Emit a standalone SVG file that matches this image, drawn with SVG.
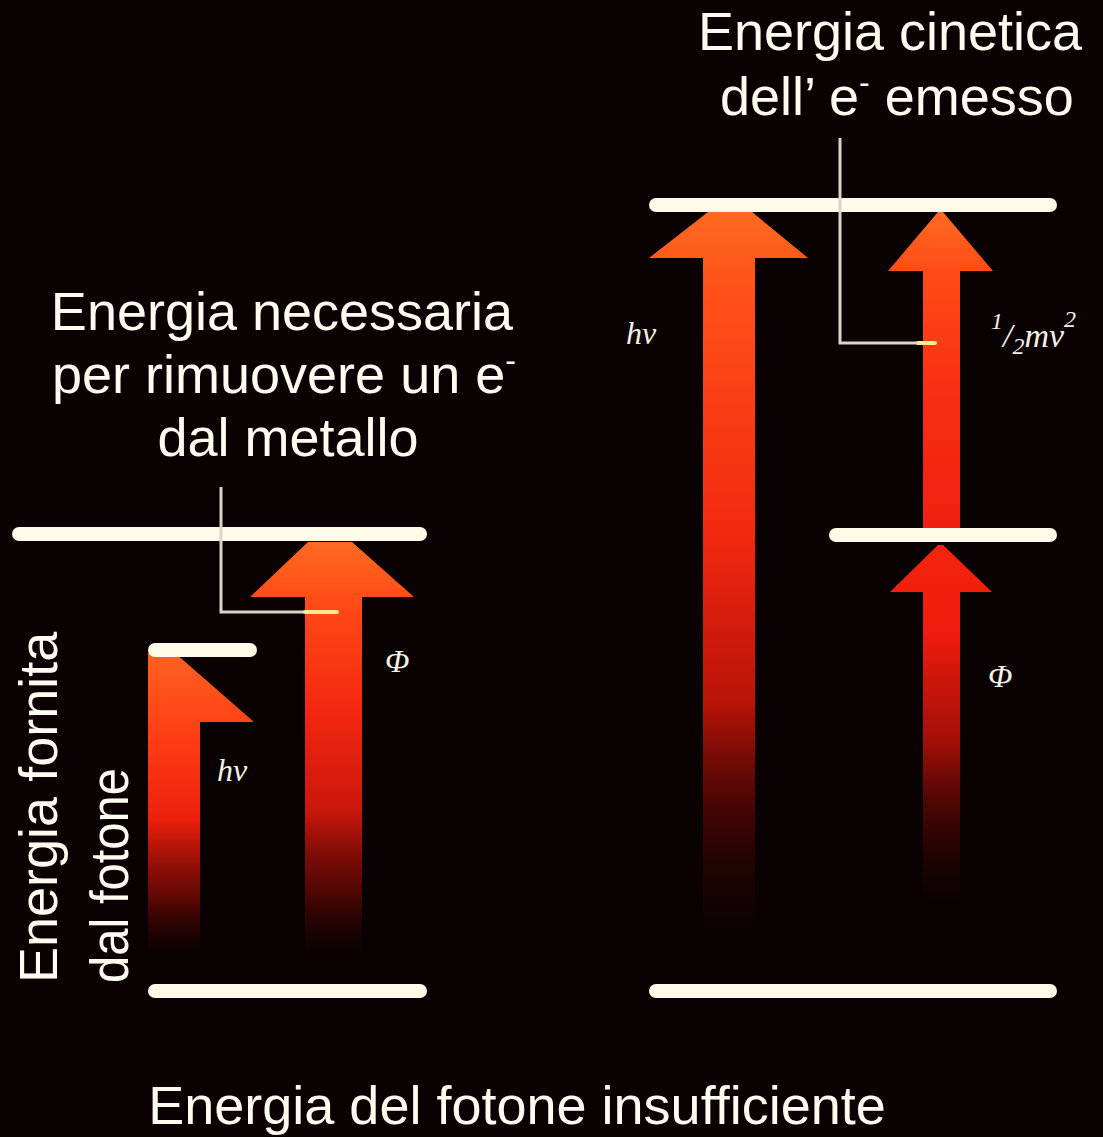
<svg xmlns="http://www.w3.org/2000/svg" width="1103" height="1137" viewBox="0 0 1103 1137">
<defs>
<style>
.t{font-family:"Liberation Sans",Arial,sans-serif;font-size:54px;fill:#fffbf0}
.s{font-family:"Liberation Serif","Times New Roman",serif;font-style:italic;fill:#f4f0e4}
.lv{stroke:#fffbe8;stroke-width:14;stroke-linecap:round;fill:none}
.ln{stroke:#d8d6cc;stroke-width:3;fill:none}
</style>
<linearGradient id="gA" gradientUnits="userSpaceOnUse" x1="0" y1="542" x2="0" y2="955">
<stop offset="0" stop-color="#ff6a22"/><stop offset="0.14" stop-color="#ff4c16"/><stop offset="0.4" stop-color="#f42810"/><stop offset="0.65" stop-color="#e01a0c" stop-opacity="0.9"/><stop offset="0.85" stop-color="#a00c06" stop-opacity="0.45"/><stop offset="1" stop-color="#500404" stop-opacity="0"/>
</linearGradient>
<linearGradient id="gB" gradientUnits="userSpaceOnUse" x1="0" y1="653" x2="0" y2="955">
<stop offset="0" stop-color="#ff6222"/><stop offset="0.25" stop-color="#ff4014"/><stop offset="0.55" stop-color="#ee200c"/><stop offset="0.8" stop-color="#b00e06" stop-opacity="0.55"/><stop offset="1" stop-color="#500404" stop-opacity="0"/>
</linearGradient>
<linearGradient id="gC" gradientUnits="userSpaceOnUse" x1="0" y1="212" x2="0" y2="935">
<stop offset="0" stop-color="#ff6a22"/><stop offset="0.1" stop-color="#ff5218"/><stop offset="0.45" stop-color="#f22810"/><stop offset="0.68" stop-color="#d8160a" stop-opacity="0.85"/><stop offset="0.86" stop-color="#800806" stop-opacity="0.35"/><stop offset="1" stop-color="#400404" stop-opacity="0"/>
</linearGradient>
<linearGradient id="gD" gradientUnits="userSpaceOnUse" x1="0" y1="212" x2="0" y2="528">
<stop offset="0" stop-color="#ff6a22"/><stop offset="0.2" stop-color="#ff4a16"/><stop offset="0.6" stop-color="#f82c12"/><stop offset="1" stop-color="#f02010"/>
</linearGradient>
<linearGradient id="gE" gradientUnits="userSpaceOnUse" x1="0" y1="545" x2="0" y2="905">
<stop offset="0" stop-color="#f4240e"/><stop offset="0.25" stop-color="#ee1c0c"/><stop offset="0.55" stop-color="#c8120a" stop-opacity="0.8"/><stop offset="0.8" stop-color="#780806" stop-opacity="0.35"/><stop offset="1" stop-color="#400404" stop-opacity="0"/>
</linearGradient>
</defs>
<rect width="1103" height="1137" fill="#0a0202"/>

<g id="arrows">
<polygon id="arrow-phi-left" fill="url(#gA)" points="308,542 352,542 414,597 362,597 362,955 305,955 305,597 250,597"/>
<polygon id="arrow-hv-left" fill="url(#gB)" points="148,653 175,653 254,722 200,722 200,955 148,955"/>
<polygon id="arrow-hv-right" fill="url(#gC)" points="708,212 752,212 808,258 755,258 755,935 703,935 703,258 649,258"/>
<polygon id="arrow-kin-right" fill="url(#gD)" points="938,212 943,212 993,271 960,271 960,528 923,528 923,271 888,271"/>
<polygon id="arrow-phi-right" fill="url(#gE)" points="938,545 943,545 992,592 960,592 960,905 923,905 923,592 890,592"/>
</g>

<g id="levels">
<line class="lv" x1="19" y1="534" x2="420" y2="534"/>
<line class="lv" x1="155" y1="650" x2="250" y2="650"/>
<line class="lv" x1="155" y1="991" x2="420" y2="991"/>
<line class="lv" x1="656" y1="205" x2="1050" y2="205"/>
<line class="lv" x1="836" y1="535" x2="1050" y2="535"/>
<line class="lv" x1="656" y1="991" x2="1050" y2="991"/>
</g>

<g id="connectors">
<polyline class="ln" points="221,487 221,612 312,612"/>
<line x1="305" y1="612" x2="337" y2="612" stroke="#ffe890" stroke-width="4" stroke-linecap="round"/>
<polyline class="ln" points="840,138 840,343 922,343"/>
<line x1="918" y1="343" x2="935" y2="343" stroke="#ffe890" stroke-width="4" stroke-linecap="round"/>
</g>

<g id="labels">
<text class="t" x="282" y="330" text-anchor="middle">Energia necessaria</text>
<text class="t" x="52" y="393">per rimuovere un e<tspan font-size="32" dy="-22">-</tspan></text>
<text class="t" x="288" y="456" text-anchor="middle">dal metallo</text>
<text class="t" x="890" y="50" text-anchor="middle">Energia cinetica</text>
<text class="t" x="720" y="115">dell’ e<tspan font-size="32" dy="-22">-</tspan><tspan dy="22"> emesso</tspan></text>
<text class="t" x="517" y="1124" text-anchor="middle">Energia del fotone insufficiente</text>
<text class="t" transform="translate(57,983) rotate(-90)">Energia fornita</text>
<text class="t" transform="translate(128,983) rotate(-90)" textLength="215" lengthAdjust="spacingAndGlyphs">dal fotone</text>
<text class="s" x="626" y="344" font-size="32">hν</text>
<text class="s" x="217" y="781" font-size="32">hν</text>
<text class="s" x="385" y="672" font-size="32" font-style="normal">Φ</text>
<text class="s" x="988" y="687" font-size="32" font-style="normal">Φ</text>
<text class="s" x="991" y="347" font-size="34"><tspan font-size="24" dy="-18">1</tspan><tspan dy="18">/</tspan><tspan font-size="24" dy="7">2</tspan><tspan dy="-7">mv</tspan><tspan font-size="24" dy="-20">2</tspan></text>
</g>
</svg>
